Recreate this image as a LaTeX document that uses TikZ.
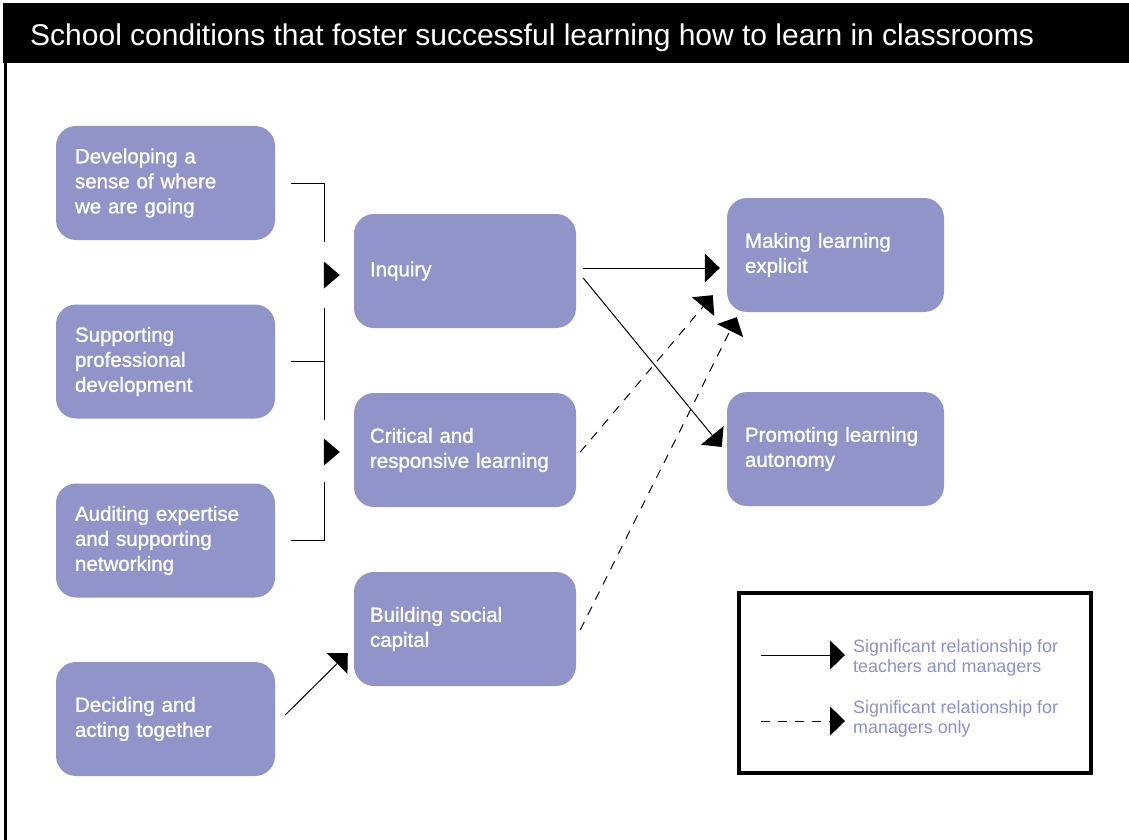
\documentclass[tikz,border=0pt]{standalone}
\usepackage{fontspec}
\setmainfont{Liberation Sans}
\newfontfamily\boxfont[FakeBold=1.2]{Liberation Sans}
\usetikzlibrary{arrows.meta}
\definecolor{boxc}{RGB}{145,148,200}
\definecolor{legc}{RGB}{140,143,208}
\begin{document}
\begin{tikzpicture}[x=1pt,y=-1pt,
  box/.style={fill=boxc, rounded corners=20pt, text=white, align=left,
    minimum height=114pt, inner ysep=0pt, font=\boxfont\fontsize{20.5}{25}\selectfont},
  lbox/.style={box, text width=181pt, inner xsep=19pt},
  mbox/.style={box, text width=190pt, inner xsep=16pt},
  rbox/.style={box, text width=181pt, inner xsep=18pt},
  conn/.style={line width=1pt, draw=black},
  dashconn/.style={conn, dash pattern=on 9pt off 8pt},
  tipa/.style={-{Triangle[length=16pt,width=27pt]}},
  tipb/.style={-{Triangle[length=15pt,width=29pt]}},
  legtext/.style={text=legc, align=left, inner sep=0pt, font=\fontsize{17.9}{20}\selectfont}
]
\useasboundingbox (0,0) rectangle (1129,840);
% title bar and frame
\fill[black] (3,3) rectangle (1129,63);
\node[anchor=west, text=white, inner sep=0pt, font=\fontsize{30}{32}\selectfont] (title) at (30,38)
  {School conditions that foster successful learning how to learn in classrooms};
\draw[line width=3pt] (5.5,63) -- (5.5,840);

% boxes
\node[lbox] (b1) at (165.5,183) {Developing a\\sense of where\\we are going};
\node[lbox] (b2) at (165.5,361.5) {Supporting\\professional\\development};
\node[lbox] (b3) at (165.5,540.5) {Auditing expertise\\and supporting\\networking};
\node[lbox] (b4) at (165.5,719) {Deciding and\\acting together};
\node[mbox] (inq) at (465,271) {Inquiry};
\node[mbox] (cri) at (465,450) {Critical and\\responsive learning};
\node[mbox] (bsc) at (465,629) {Building social\\capital};
\node[rbox] (mak) at (835.5,255) {Making learning\\explicit};
\node[rbox] (pro) at (835.5,449) {Promoting learning\\autonomy};

% bracket connectors
\coordinate (j1) at (324,275);
\coordinate (j2) at (324,452);
\draw[conn] ([xshift=16pt]b1.east) -| ([yshift=33pt]j1);
\draw[conn] ([yshift=-33pt]j1) -- ([yshift=32pt]j2);
\draw[conn] ([xshift=16pt]b2.east) -- (b2.east -| j1);
\draw[conn] ([yshift=-30pt]j2) |- ([xshift=16pt]b3.east);
\draw[conn, tipa] (j1) -- ([xshift=-14pt]inq.west |- j1);
\draw[conn, tipa] (j2) -- ([xshift=-14pt]cri.west |- j2);

% other connectors
\draw[conn, tipb] ([shift={(7,-3)}]inq.east) -- ([shift={(-7,13)}]mak.west);
\draw[conn, tipb] ([shift={(7,7)}]inq.east) -- ([shift={(-5,-2)}]pro.west);
\draw[dashconn, tipb] ([shift={(4,2)}]cri.east) -- ([shift={(-14,-17)}]mak.south west);
\draw[dashconn, tipb] ([shift={(4,1)}]bsc.east) -- ([shift={(10,5)}]mak.south west);
\draw[conn, tipb] ([shift={(10,-4)}]b4.east) -- ([shift={(-6,24)}]bsc.west);

% legend
\node[draw=black, line width=3.5pt, minimum width=352pt, minimum height=180pt, inner sep=0pt] (legend) at (915,683) {};
\coordinate (l1s) at (761,655);
\coordinate (l1e) at (845,655);
\coordinate (l2s) at (761,721);
\coordinate (l2e) at (845,721);
\draw[conn, tipb] (l1s) -- (l1e);
\draw[dashconn, tipb] (l2s) -- (l2e);
\node[legtext, anchor=base west] (lt1) at (853,672) {Significant relationship for\\teachers and managers};
\node[legtext, anchor=base west] (lt2) at (853,733) {Significant relationship for\\managers only};
\end{tikzpicture}
\end{document}
